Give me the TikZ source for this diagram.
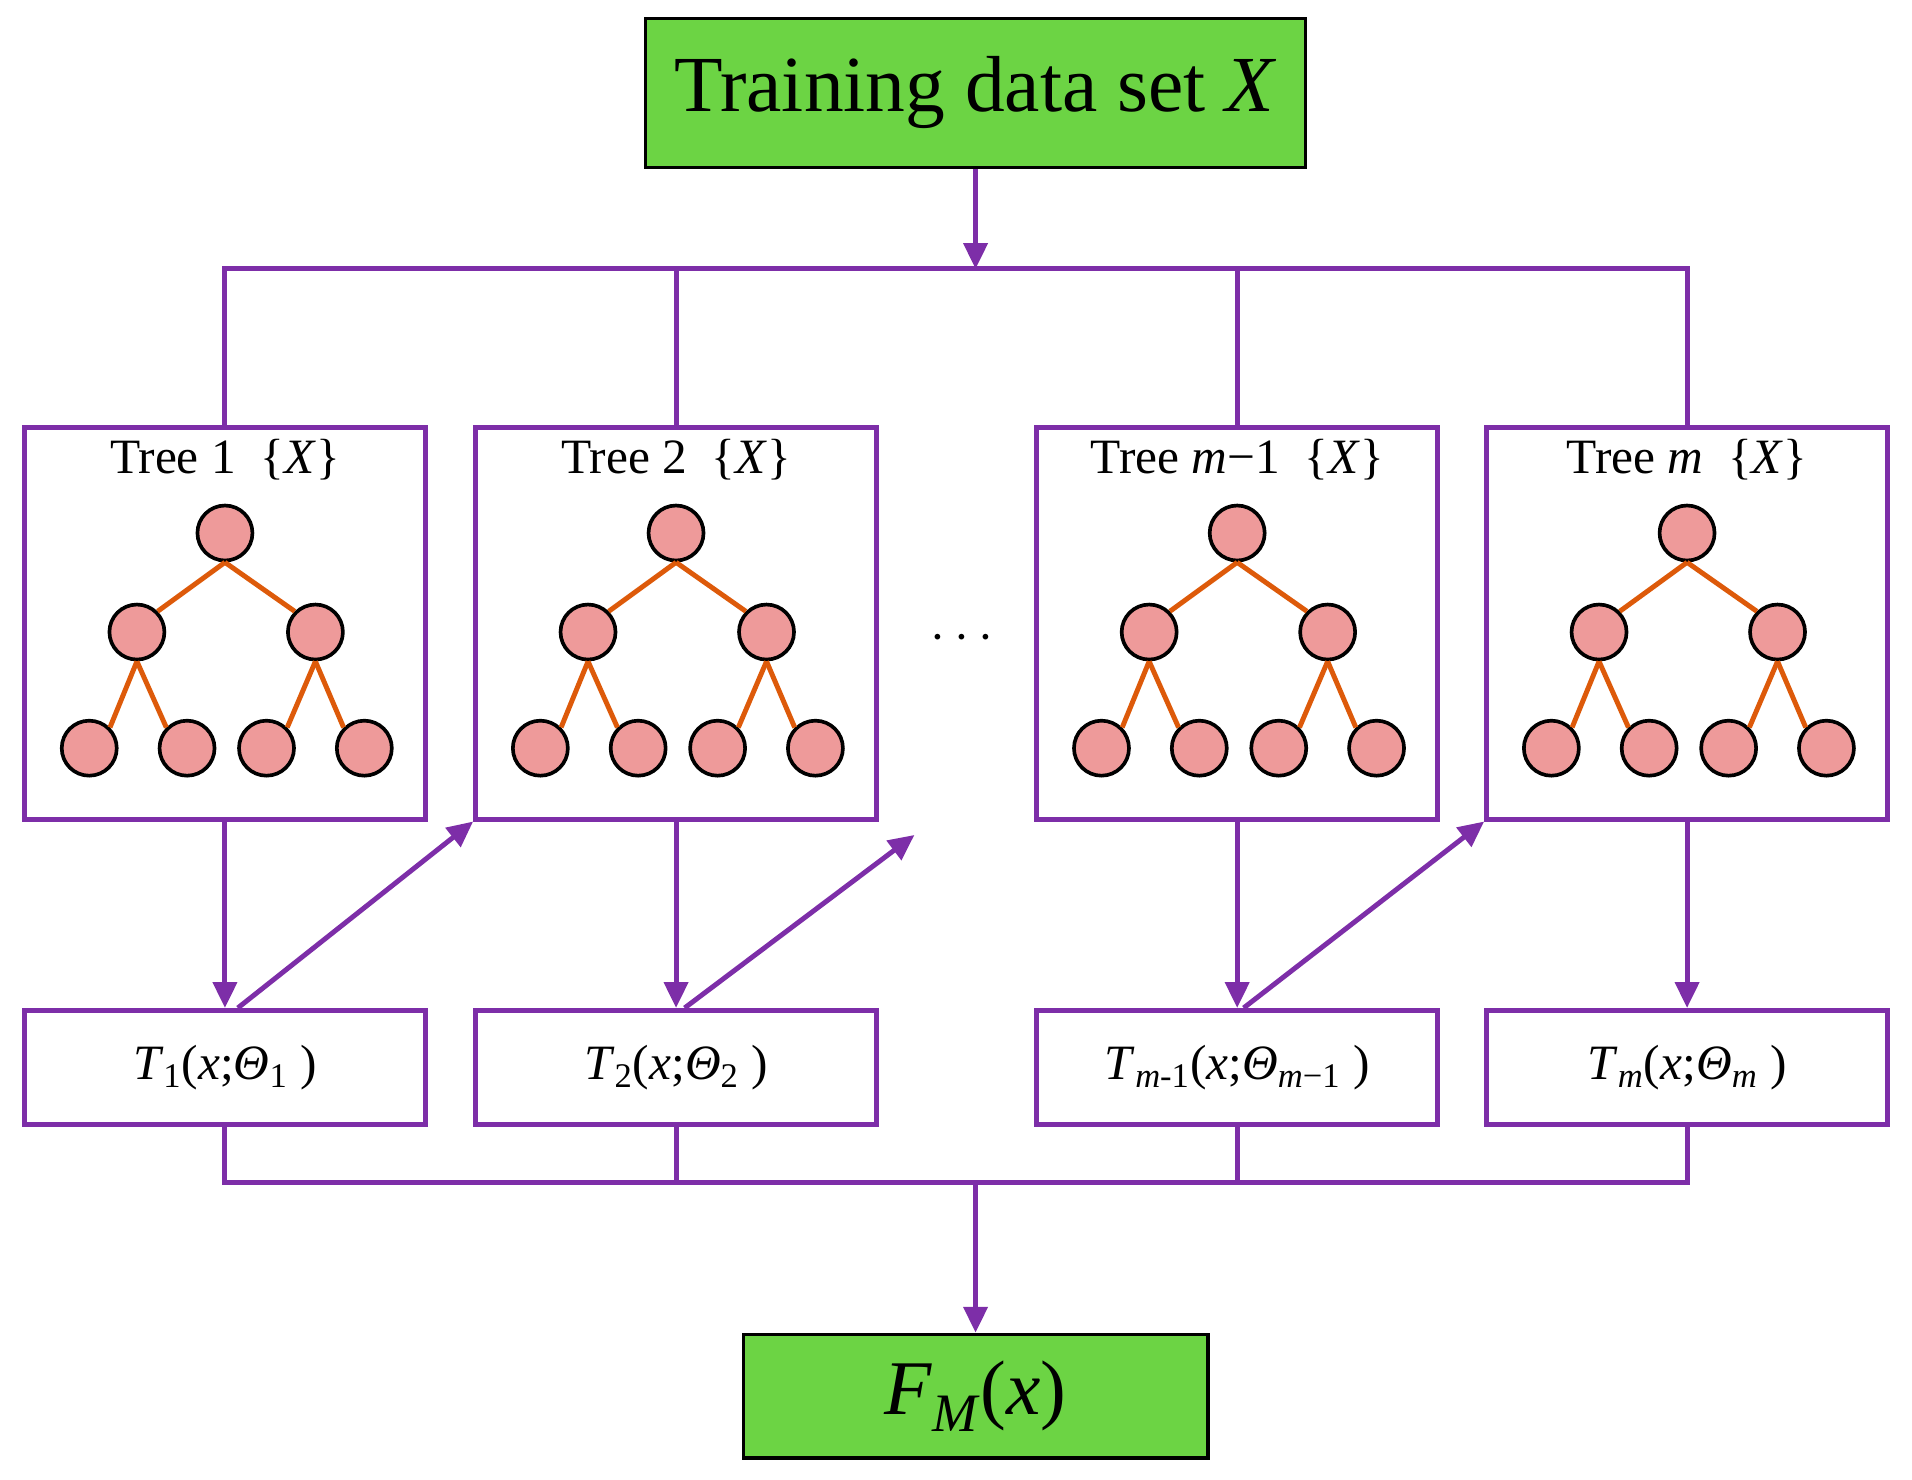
\documentclass[tikz,border=0pt]{standalone}
\usepackage{fontspec}
\setmainfont{Liberation Serif}
\usetikzlibrary{calc,positioning,arrows.meta}
\definecolor{bus}{HTML}{7D2EA8}
\definecolor{leaf}{HTML}{EE9A9A}
\definecolor{branch}{HTML}{DD5A0A}
\definecolor{box}{HTML}{6CD444}
\newcommand{\vi}[1]{\textit{#1}}
\tikzset{
    endbox/.style={
        draw=black,
        line width=1.6pt,
        fill=box,
        inner sep=0pt
    },
    treebox/.style={
        draw=bus,
        line width=2.3pt,
        minimum width=6.56cm,
        minimum height=6.4cm,
        inner sep=0pt
    },
    result/.style={
        draw=bus,
        line width=2.3pt,
        fill=white,
        minimum width=6.56cm,
        minimum height=1.86cm,
        inner sep=0pt,
        font=\fontsize{23}{26}\selectfont
    },
    knot/.style={
        circle,
        draw=black,
        line width=1.7pt,
        fill=leaf,
        minimum size=0.9cm,
        inner sep=0pt
    },
    wire/.style={draw=bus, line width=2.3pt},
    arr/.style={wire, -{Triangle[length=12pt,width=11pt]}},
    twig/.style={draw=branch, line width=2.3pt}
}
\begin{document}
\begin{tikzpicture}[x=0.02cm,y=-0.02cm]
    \useasboundingbox (0,0) rectangle (1564,1210);
    % top and bottom
    \node[endbox,minimum width=10.8cm,minimum height=2.44cm,
        font=\fontsize{37}{40}\selectfont] (Data) at (798,76) {Training data set \vi{X}};
    \node[endbox,minimum width=7.6cm,minimum height=2.02cm,
        font=\fontsize{36}{40}\selectfont] (Sum) at (798,1142)
        {\vi{F}\textsubscript{\vi{M}}(\vi{x})};
    \coordinate (Split) at (798,220);
    \coordinate (Join) at (798,967);
    % trees
    \foreach \i/\x/\name in {1/184/Tree 1,2/553/Tree 2,3/1012/Tree \vi{m}−1,4/1380/Tree \vi{m}} {
        \node[treebox] (Tree\i) at (\x,510) {};
        \node[below=0.1cm of Tree\i.north,font=\fontsize{23}{26}\selectfont] {\name\ \ \{\vi{X}\}};
        \node[knot] (Root\i) at (\x,436) {};
        \node[knot] (L\i) at ($(\x,517)+(-72,0)$) {};
        \node[knot] (R\i) at ($(\x,517)+(74,0)$) {};
        \node[knot] (LL\i) at ($(\x,612)+(-111,0)$) {};
        \node[knot] (LR\i) at ($(\x,612)+(-31,0)$) {};
        \node[knot] (RL\i) at ($(\x,612)+(34,0)$) {};
        \node[knot] (RR\i) at ($(\x,612)+(114,0)$) {};
        \draw[twig] (Root\i.south) -- (L\i.north east);
        \draw[twig] (Root\i.south) -- (R\i.north west);
        \draw[twig] (L\i.south) -- (LL\i.north east);
        \draw[twig] (L\i.south) -- (LR\i.north west);
        \draw[twig] (R\i.south) -- (RL\i.north east);
        \draw[twig] (R\i.south) -- (RR\i.north west);
        \draw[wire] (Tree\i.north) |- (Split);
    }
    \node[font=\fontsize{36}{40}\selectfont\bfseries] (Dots) at (787,522) {$\cdots$};
    % outputs
    \node[result] (Out1) at (184,873) {\vi{T}\textsubscript{1}(\vi{x};\vi{Θ}\textsubscript{1} )};
    \node[result] (Out2) at (553,873) {\vi{T}\textsubscript{2}(\vi{x};\vi{Θ}\textsubscript{2} )};
    \node[result] (Out3) at (1012,873) {\vi{T}\textsubscript{\vi{m}-1}(\vi{x};\vi{Θ}\textsubscript{\vi{m}−1} )};
    \node[result] (Out4) at (1380,873) {\vi{T}\textsubscript{\vi{m}}(\vi{x};\vi{Θ}\textsubscript{\vi{m}} )};
    \foreach \i in {1,...,4} {
        \draw[arr] (Tree\i.south) -- (Out\i.north);
        \draw[wire] (Out\i.south) |- (Join);
    }
    \coordinate (Gap) at (748,683);
    \draw[arr] ([xshift=6]Out1.north) -- (Tree2.south west);
    \draw[arr] ([xshift=4]Out2.north) -- (Gap);
    \draw[arr] ([xshift=3]Out3.north) -- (Tree4.south west);
    \draw[arr] (Data.south) -- (Split);
    \draw[arr] (Join) -- (Sum.north);
\end{tikzpicture}
\end{document}
